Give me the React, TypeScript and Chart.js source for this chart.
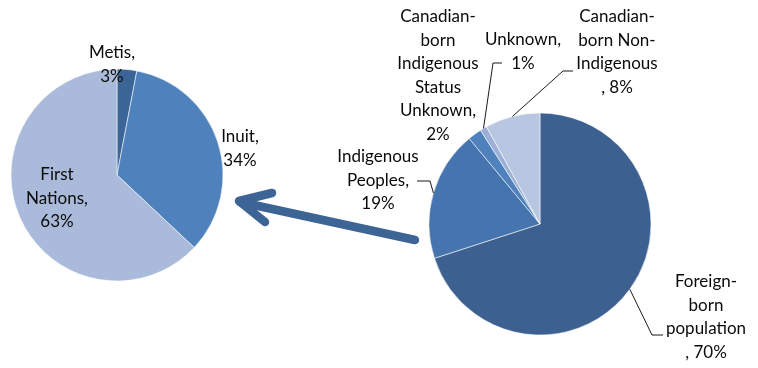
import React, { useEffect, useRef } from "react";
import { Chart, registerables } from "chart.js";
Chart.register(...registerables);

// ---- data ----
const leftCategories = ["Metis", "Inuit", "First Nations"];
const leftValues = [3, 34, 63];
const leftLabelLines = [["Metis,", "3%"], ["Inuit,", "34%"], ["First", "Nations,", "63%"]];

const rightCategories = [
  "Foreign-born population",
  "Indigenous Peoples",
  "Canadian-born Indigenous Status Unknown",
  "Unknown",
  "Canadian-born Non-Indigenous",
];
const rightValues = [70, 19, 2, 1, 8];
const rightLabelLines = [
  ["Foreign-", "born", "population", ", 70%"],
  ["Indigenous", "Peoples,", "19%"],
  ["Canadian-", "born", "Indigenous", "Status", "Unknown,", "2%"],
  ["Unknown,", "1%"],
  ["Canadian-", "born Non-", "Indigenous", ", 8%"],
];

// ---- styles / layout ----
const W = 758;
const H = 368;
const leftColors = ["#3C6597", "#4F81BD", "#A9BADA"];
const rightColors = ["#3C6191", "#4674AE", "#4F81BD", "#9CB0D6", "#B8C6E1"];
const FONT = '17px Lato, "Open Sans", sans-serif';
const LINE_H = 23.5;
const TEXT_COLOR = "#0a0a0a";

// pie areas (left, top, size)
const leftArea = { x: 10.5, y: 68.5, size: 213 };
const rightArea = { x: 428.5, y: 112.5, size: 223 };

// label anchors: offset of first line's centre from pie centre
const leftLabelPos = [
  [-5, -122],
  [123, -38],
  [-60, 0],
];
const rightLabelPos = [
  [166, 58],
  [-162, -67],
  [-102, -207],
  [-17, -184],
  [77, -207],
];
// leader line bends (offsets from pie centre), null = no leader
const rightLeaders: (number[][] | null)[] = [
  [[112, 111], [123, 111]],
  [[-110, -43], [-123, -43]],
  null,
  [[-47, -161], [-38, -161]],
  [[23, -153], [33, -153]],
];

// arrow: tail and tip (page coords), head wings
const arrowTail = [415, 240];
const arrowTip = [237, 201];
const arrowWingUp = [272, 193];
const arrowWingDown = [265, 222];
const arrowColor = "#3C6494";

function makeLabelPlugin(lines: string[][], pos: number[][], leaders: (number[][] | null)[] | null, drawArrow: boolean) {
  return {
    id: "customLabels",
    afterDatasetsDraw(chart: any) {
      const ctx = chart.ctx;
      const meta = chart.getDatasetMeta(0);
      ctx.save();
      ctx.font = FONT;
      ctx.fillStyle = TEXT_COLOR;
      ctx.textAlign = "center";
      ctx.textBaseline = "middle";
      meta.data.forEach((arc: any, i: number) => {
        const p = arc.getProps(["x", "y", "startAngle", "endAngle", "outerRadius"], true);
        const cx = p.x;
        const cy = p.y;
        const [dx, dy] = pos[i];
        lines[i].forEach((t, k) => {
          ctx.fillText(t, cx + dx, cy + dy + k * LINE_H);
        });
        const ld = leaders ? leaders[i] : null;
        if (ld) {
          const mid = (p.startAngle + p.endAngle) / 2;
          const sx = cx + Math.cos(mid) * p.outerRadius;
          const sy = cy + Math.sin(mid) * p.outerRadius;
          ctx.save();
          ctx.strokeStyle = "#000";
          ctx.lineWidth = 0.9;
          ctx.beginPath();
          ctx.moveTo(sx, sy);
          ld.forEach((q) => ctx.lineTo(cx + q[0], cy + q[1]));
          ctx.stroke();
          ctx.restore();
        }
      });
      if (drawArrow) {
        ctx.strokeStyle = arrowColor;
        ctx.lineWidth = 8.5;
        ctx.lineCap = "round";
        ctx.lineJoin = "round";
        ctx.beginPath();
        ctx.moveTo(arrowTail[0], arrowTail[1]);
        ctx.lineTo(arrowTip[0] + 3, arrowTip[1] + 1);
        ctx.stroke();
        ctx.beginPath();
        ctx.moveTo(arrowWingUp[0], arrowWingUp[1]);
        ctx.lineTo(arrowTip[0] + 2, arrowTip[1]);
        ctx.lineTo(arrowWingDown[0], arrowWingDown[1]);
        ctx.stroke();
      }
      ctx.restore();
    },
  };
}

function pieConfig(labels: string[], values: number[], colors: string[], area: any, plugin: any) {
  return {
    type: "pie" as const,
    data: {
      labels,
      datasets: [
        {
          data: values,
          backgroundColor: colors,
          borderColor: "rgba(255,255,255,0.55)",
          borderWidth: 1,
        },
      ],
    },
    options: {
      responsive: false,
      animation: false as const,
      layout: {
        padding: {
          left: area.x,
          top: area.y,
          right: W - area.x - area.size,
          bottom: H - area.y - area.size,
        },
      },
      plugins: {
        legend: { display: false },
        tooltip: { enabled: false },
      },
    },
    plugins: [plugin],
  };
}

export default function App() {
  const leftRef = useRef<HTMLCanvasElement>(null);
  const rightRef = useRef<HTMLCanvasElement>(null);

  useEffect(() => {
    const c1 = new Chart(
      leftRef.current as HTMLCanvasElement,
      pieConfig(leftCategories, leftValues, leftColors, leftArea, makeLabelPlugin(leftLabelLines, leftLabelPos, null, false)) as any
    );
    const c2 = new Chart(
      rightRef.current as HTMLCanvasElement,
      pieConfig(rightCategories, rightValues, rightColors, rightArea, makeLabelPlugin(rightLabelLines, rightLabelPos, rightLeaders, true)) as any
    );
    return () => {
      c1.destroy();
      c2.destroy();
    };
  }, []);

  const cs: React.CSSProperties = { position: "absolute", left: 0, top: 0, width: W, height: H };
  return (
    <div style={{ position: "fixed", left: 0, top: 0, width: W, height: H, background: "#fff" }}>
      <canvas ref={leftRef} width={W} height={H} style={cs} />
      <canvas ref={rightRef} width={W} height={H} style={cs} />
    </div>
  );
}
